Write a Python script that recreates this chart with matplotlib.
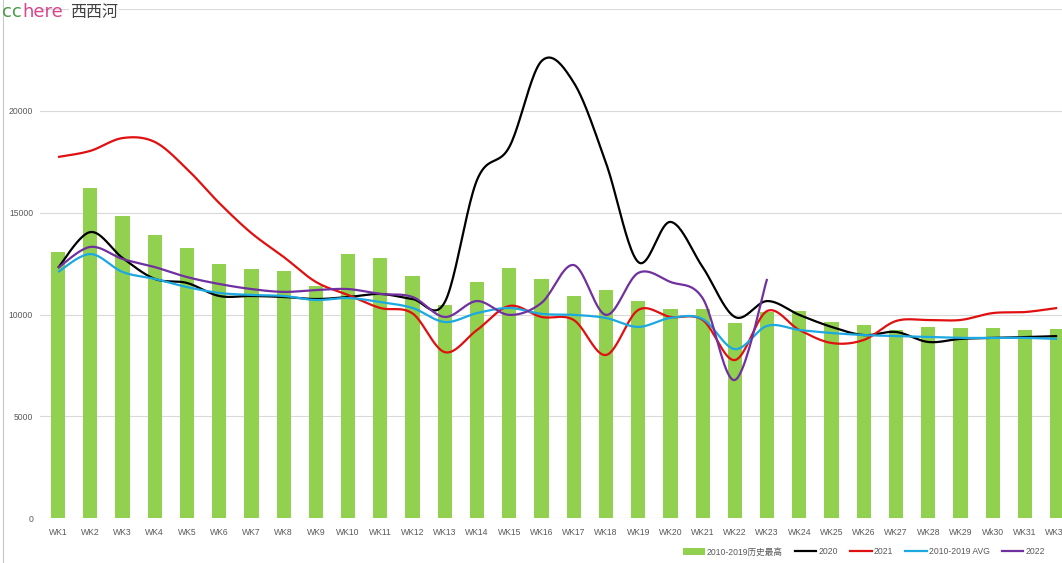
import numpy as np
import matplotlib
matplotlib.use("Agg")
import matplotlib.pyplot as plt
from matplotlib.lines import Line2D
from matplotlib.patches import Patch

plt.rcParams['font.family'] = ['Liberation Sans', 'Noto Sans CJK SC', 'DejaVu Sans']

weeks = [f"WK{i}" for i in range(1, 30)] + ["Wk30", "WK31", "WK32"]

hist_max = [13050, 16200, 14840, 13900, 13270, 12480, 12240, 12140, 11400, 12970,
            12780, 11890, 10470, 11600, 12290, 11750, 10910, 11200, 10660, 10270,
            10270, 9580, 10120, 10170, 9630, 9480, 9240, 9390, 9340, 9340, 9240, 9290]

y2020 = [12290, 14050, 12780, 11750, 11550, 10910, 10910, 10860, 10760, 10860,
         11010, 10760, 10610, 16610, 18230, 22450, 21400, 17450, 12580, 14550,
         12330, 9880, 10660, 9980, 9390, 8990, 9140, 8650, 8800, 8850, 8890, 8940]

y2021 = [17740, 18040, 18670, 18480, 17150, 15480, 14000, 12830, 11600, 10960,
         10320, 10050, 8150, 9240, 10420, 9880, 9730, 8010, 10220, 9880,
         9730, 7760, 10170, 9240, 8600, 8750, 9680, 9730, 9730, 10070, 10120, 10320]

avg = [12090, 12970, 12090, 11750, 11350, 11060, 10960, 10910, 10710, 10810,
       10610, 10320, 9630, 10070, 10320, 10030, 9980, 9830, 9390, 9830,
       9780, 8300, 9440, 9240, 9090, 8990, 8940, 8890, 8850, 8850, 8850, 8800]

y2022 = [12290, 13320, 12730, 12330, 11840, 11500, 11250, 11110, 11200, 11250,
         11010, 10860, 9880, 10660, 9980, 10570, 12430, 9980, 12040, 11600,
         10800, 6780, 11750]


def smooth(vals, n=24):
    p = np.column_stack([np.arange(len(vals), dtype=float), np.asarray(vals, float)])
    xs, ys = [], []
    for i in range(len(p) - 1):
        p0 = p[i - 1] if i > 0 else p[i]
        p1, p2 = p[i], p[i + 1]
        p3 = p[i + 2] if i + 2 < len(p) else p[i + 1]
        c1 = p1 + (p2 - p0) / 6.0
        c2 = p2 - (p3 - p1) / 6.0
        t = np.linspace(0, 1, n)[:, None]
        b = ((1 - t) ** 3) * p1 + 3 * ((1 - t) ** 2) * t * c1 + 3 * (1 - t) * t ** 2 * c2 + t ** 3 * p2
        xs.append(b[:, 0]); ys.append(b[:, 1])
    return np.concatenate(xs), np.concatenate(ys)


fig = plt.figure(figsize=(10.62, 5.63), dpi=100)
ax = fig.add_axes([40 / 1062, (563 - 518) / 563, 1 - 40 / 1062, (518 - 9.25) / 563])

x = np.arange(len(weeks))
ax.bar(x, hist_max, width=0.44, color="#92D050", zorder=2)

lw = 1.6
for vals, col in [(y2020, "#000000"), (y2021, "#E01010"), (avg, "#1CA8E0"), (y2022, "#7030A0")]:
    sx, sy = smooth(vals)
    ax.plot(sx, sy, color=col, lw=lw, zorder=3, solid_capstyle="butt")

ax.set_xlim(-0.56, 31.15)
ax.set_ylim(0, 25000)
ax.set_yticks([0, 5000, 10000, 15000, 20000, 25000])
ax.set_yticklabels(["0", "5000", "10000", "15000", "20000", ""])
ax.set_xticks(x)
ax.set_xticklabels(weeks)
ax.grid(axis="y", color="#D9D9D9", lw=0.8, zorder=0)
ax.set_axisbelow(True)
for s in ax.spines.values():
    s.set_visible(False)
ax.tick_params(axis="both", length=0, labelsize=6.2, colors="#595959")
ax.tick_params(axis="y", pad=5)
ax.tick_params(axis="x", pad=7)

# title / logo
fig.text(2 / 1062, 1 - 17 / 563, "cc", color="#4A9A4A", fontsize=13, va="baseline", ha="left",
         family=["DejaVu Sans"])
fig.text(22 / 1062, 1 - 17 / 563, "here", color="#D9448A", fontsize=13, va="baseline", ha="left",
         family=["DejaVu Sans"])
fig.text(70 / 1062, 1 - 17 / 563, "西西河", color="#404040", fontsize=11.5, va="baseline", ha="left",
         family=["Noto Sans CJK SC"],
         bbox=dict(facecolor="white", edgecolor="none", pad=1))

fig.add_artist(Line2D([3 / 1062, 3 / 1062], [0, 1], color="#C8C8C8", lw=0.8))

handles = [Patch(facecolor="#92D050", edgecolor="none"),
           Line2D([], [], color="#000000", lw=lw),
           Line2D([], [], color="#E01010", lw=lw),
           Line2D([], [], color="#1CA8E0", lw=lw),
           Line2D([], [], color="#7030A0", lw=lw)]
labels = ["2010-2019历史最高", "2020", "2021", "2010-2019 AVG", "2022"]
leg = fig.legend(handles, labels, ncol=5, loc="center right", bbox_to_anchor=(1045 / 1062, 1 - 552 / 563),
                 frameon=False, handlelength=2.5, handleheight=0.7, columnspacing=1.4,
                 handletextpad=0.25, borderaxespad=0, borderpad=0,
                 prop={"family": ["Liberation Sans", "Noto Sans CJK SC"], "size": 6.2})
for t in leg.get_texts():
    t.set_color("#595959")

fig.savefig("out.png", dpi=100)
